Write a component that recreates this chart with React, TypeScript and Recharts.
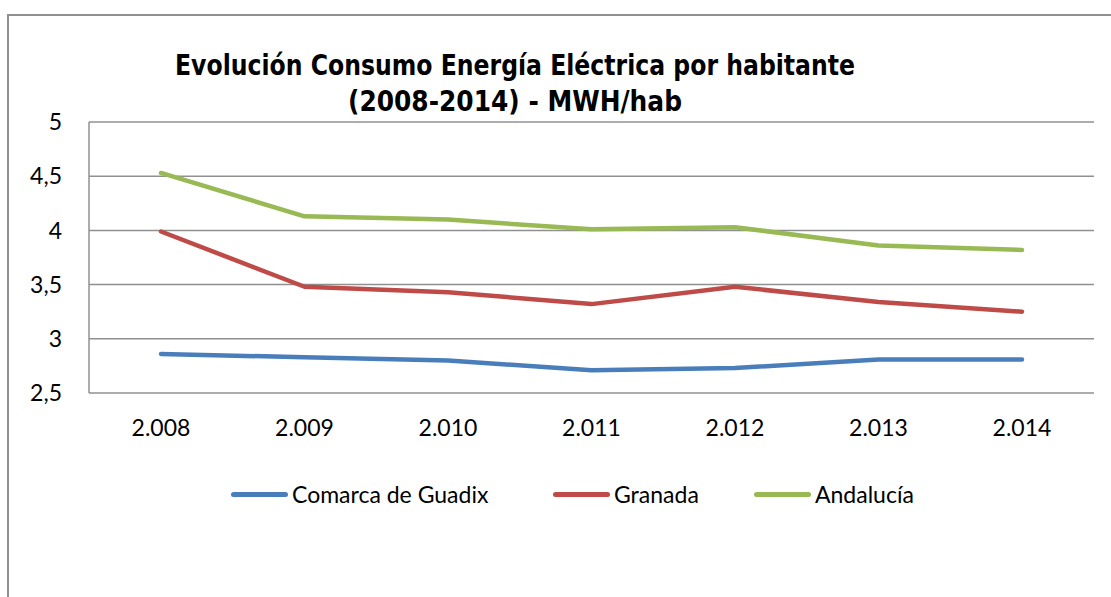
import {
  LineChart,
  Line,
  XAxis,
  YAxis,
  CartesianGrid,
  Legend,
} from "recharts";

// años (etiquetas tal cual aparecen en el eje)
const years = ["2.008", "2.009", "2.010", "2.011", "2.012", "2.013", "2.014"];

// MWH por habitante
const guadix = [2.86, 2.83, 2.8, 2.71, 2.73, 2.81, 2.81];
const granada = [3.99, 3.48, 3.43, 3.32, 3.48, 3.34, 3.25];
const andalucia = [4.53, 4.13, 4.1, 4.01, 4.03, 3.86, 3.82];

const yTicks = [2.5, 3, 3.5, 4, 4.5, 5];

const titleLines = [
  "Evolución Consumo Energía Eléctrica por habitante",
  "(2008-2014) - MWH/hab",
];

const series = [
  { key: "guadix", name: "Comarca de Guadix", color: "#4A7EBB" },
  { key: "granada", name: "Granada", color: "#BE4B48" },
  { key: "andalucia", name: "Andalucía", color: "#98B954" },
];

const data = years.map((year, i) => ({
  year,
  guadix: guadix[i],
  granada: granada[i],
  andalucia: andalucia[i],
}));

const FONT = "Lato, 'Open Sans', sans-serif";
const GRID = "#909090";
// ancho de cada entrada de la leyenda
const legendWidths = [322, 201, 0];

function LegendContent() {
  return (
    <div
      style={{
        display: "flex",
        alignItems: "center",
        height: 40,
        paddingLeft: 231,
        fontFamily: FONT,
        fontSize: 23,
        color: "#000",
      }}
    >
      {series.map((s, i) => (
        <div
          key={s.key}
          style={{ display: "flex", alignItems: "center", minWidth: legendWidths[i] }}
        >
          <div
            style={{
              width: 57,
              height: 5,
              borderRadius: 3,
              background: s.color,
              marginRight: 4,
            }}
          />
          <span>{s.name}</span>
        </div>
      ))}
    </div>
  );
}

export default function App() {
  return (
    <div
      style={{
        position: "absolute",
        left: 0,
        top: 0,
        width: 1111,
        height: 597,
        background: "#fff",
        overflow: "hidden",
      }}
    >
      {/* marco del gráfico */}
      <div
        style={{
          position: "absolute",
          left: 7,
          top: 14,
          width: 1110,
          height: 590,
          borderLeft: `2px solid ${GRID}`,
          borderTop: `2px solid ${GRID}`,
        }}
      />
      {/* título, comprimido al ancho del original */}
      <svg
        width={1111}
        height={130}
        style={{ position: "absolute", left: 0, top: 0, zIndex: 2 }}
      >
        <text
          x={515}
          y={75}
          textAnchor="middle"
          textLength={680}
          lengthAdjust="spacingAndGlyphs"
          fontFamily="'DejaVu Sans', sans-serif"
          fontWeight={700}
          fontSize={29}
          fill="#000"
        >
          {titleLines[0]}
        </text>
        <text
          x={515}
          y={111}
          textAnchor="middle"
          textLength={334}
          lengthAdjust="spacingAndGlyphs"
          fontFamily="'DejaVu Sans', sans-serif"
          fontWeight={700}
          fontSize={29}
          fill="#000"
        >
          {titleLines[1]}
        </text>
      </svg>
      <LineChart
        width={1111}
        height={597}
        data={data}
        margin={{ top: 122, right: 17, left: 0, bottom: 104 }}
      >
        <CartesianGrid vertical={false} stroke={GRID} strokeWidth={1.5} />
        <XAxis
          dataKey="year"
          height={60}
          padding={{ left: 72, right: 72 }}
          axisLine={false}
          tickLine={false}
          tickSize={0}
          tickMargin={27}
          tick={{ fill: "#000", fontSize: 23, fontFamily: FONT }}
        />
        <YAxis
          width={89}
          domain={[2.5, 5]}
          ticks={yTicks}
          interval={0}
          axisLine={{ stroke: GRID, strokeWidth: 1.5 }}
          tickLine={false}
          tickSize={0}
          tickMargin={27}
          tickFormatter={(v) => String(v).replace(".", ",")}
          tick={{ fill: "#000", fontSize: 23, fontFamily: FONT }}
        />
        <Legend
          content={() => <LegendContent />}
          wrapperStyle={{ position: "absolute", top: 474, left: 0, width: 1111 }}
        />
        {series.map((s) => (
          <Line
            key={s.key}
            type="linear"
            dataKey={s.key}
            name={s.name}
            stroke={s.color}
            strokeWidth={4.5}
            strokeLinecap="round"
            strokeLinejoin="round"
            dot={false}
            activeDot={false}
            isAnimationActive={false}
          />
        ))}
      </LineChart>
    </div>
  );
}
